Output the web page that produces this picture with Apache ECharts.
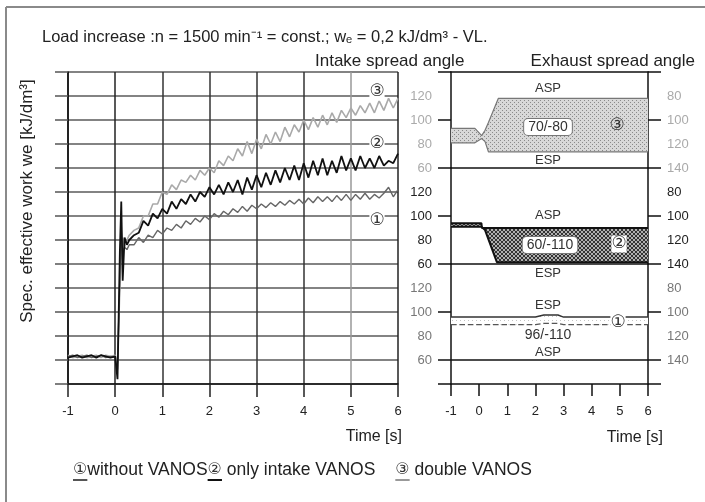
<!DOCTYPE html>
<html>
<head>
<meta charset="utf-8">
<script src="https://cdn.jsdelivr.net/npm/echarts@6/dist/echarts.min.js"></script>
<style>
  html, body { margin: 0; padding: 0; background: #fff; }
  #chart { width: 705px; height: 502px; }
</style>
</head>
<body>
<div id="chart"></div>
<script>
// time base of the work traces [s]
const times = [-1.0, -0.9, -0.8, -0.7, -0.6, -0.5, -0.4, -0.3, -0.2, -0.1, 0.0,
  0.05, 0.1, 0.13, 0.16, 0.2, 0.25, 0.3,
  0.4, 0.5, 0.6, 0.7, 0.8, 0.9, 1.0, 1.1, 1.2, 1.3, 1.4, 1.5, 1.6, 1.7, 1.8, 1.9,
  2.0, 2.1, 2.2, 2.3, 2.4, 2.5, 2.6, 2.7, 2.8, 2.9, 3.0, 3.1, 3.2, 3.3, 3.4, 3.5,
  3.6, 3.7, 3.8, 3.9, 4.0, 4.1, 4.2, 4.3, 4.4, 4.5, 4.6, 4.7, 4.8, 4.9, 5.0, 5.1,
  5.2, 5.3, 5.4, 5.5, 5.6, 5.7, 5.8, 5.9, 6.0];

// spec. effective work, in grid divisions (the original has no scale)
const workNoVanos = [1.15, 1.2, 1.1, 1.15, 1.2, 1.1, 1.15, 1.2, 1.1, 1.15, 1.1,
  0.6, 4.5, 6.4, 5.5, 5.7, 5.6, 5.8,
  5.8, 6.1, 5.9, 6.2, 6.1, 6.4, 6.25, 6.5, 6.4, 6.65, 6.5, 6.8, 6.65, 6.9, 6.75, 7.0,
  6.85, 7.1, 6.95, 7.2, 7.05, 7.3, 7.15, 7.4, 7.2, 7.45, 7.3, 7.5, 7.35, 7.55, 7.4, 7.6,
  7.45, 7.65, 7.5, 7.7, 7.5, 7.75, 7.55, 7.8, 7.6, 7.8, 7.6, 7.85, 7.65, 7.9, 7.65, 7.9,
  7.7, 7.95, 7.7, 7.9, 7.75, 7.95, 8.2, 7.8, 8.1];
const workIntakeVanos = [1.1, 1.15, 1.2, 1.1, 1.15, 1.2, 1.1, 1.2, 1.15, 1.1, 1.15,
  0.2, 5.5, 7.6, 4.3, 6.1, 5.8, 6.0,
  6.2, 6.3, 6.8, 6.6, 7.1, 6.9, 7.3, 7.1, 7.6, 7.3, 7.7, 7.5, 7.9, 7.6, 8.0, 7.8,
  8.2, 7.9, 8.3, 7.9, 8.4, 8.0, 8.5, 7.9, 8.6, 8.1, 8.7, 8.2, 8.8, 8.3, 8.9, 8.4,
  9.0, 8.5, 9.1, 8.5, 9.2, 8.6, 9.3, 8.7, 9.4, 8.7, 9.3, 8.8, 9.5, 8.9, 9.4, 8.9,
  9.5, 9.0, 9.4, 9.0, 9.5, 9.1, 9.3, 9.2, 9.6];
const workDoubleVanos = [1.2, 1.1, 1.15, 1.2, 1.1, 1.15, 1.2, 1.1, 1.2, 1.15, 1.2,
  0.9, 4.0, 5.6, 6.1, 5.7, 6.0, 6.2,
  6.4, 6.5, 7.0, 7.0, 7.5, 7.5, 8.0, 7.9, 8.3, 8.1, 8.5, 8.4, 8.7, 8.5, 8.9, 8.7,
  9.0, 8.8, 9.3, 9.1, 9.5, 9.3, 9.8, 9.5, 10.1, 9.6, 10.2, 9.8, 10.4, 10.0, 10.5, 10.1,
  10.7, 10.3, 10.8, 10.5, 11.0, 10.6, 11.1, 10.7, 11.2, 10.8, 11.3, 10.9, 11.4, 11.1, 11.5, 11.2,
  11.6, 11.3, 11.7, 11.3, 11.8, 11.4, 11.9, 11.5, 11.9];

// spread angle bands (intake spread angle, deg)
const doubleBandT = [-1, -0.15, 0.09, 0.21, 0.33, 0.68, 6];
const doubleBandHigh = [93, 93, 87, 91.5, 98, 118, 118];
const doubleBandLow = [81, 81, 84.5, 82, 73.5, 73.5, 73.5];

const intakeBandT = [-1, 0.08, 0.1, 0.21, 0.63, 6];
const intakeBandHigh = [94, 94, 90, 90, 90, 90];
const intakeBandLow = [91, 91, 89.5, 88.3, 61.5, 61.5];

const noVanosBandT = [-1, 2.0, 2.3, 2.8, 3.0, 6];
const noVanosBandHigh = [95.8, 95.8, 97.5, 97.5, 95.8, 95.8];
const noVanosBandLow = [89.5, 89.5, 90.5, 90.5, 89.5, 89.5];

const intakeLabels = [60, 80, 100, 120];
const exhaustLabels = [80, 100, 120, 140];

const legendMarks = ['①', '②', '③'];
const legendNames = ['without VANOS', ' only intake VANOS', ' double VANOS'];
const legendUnderline = ['#555', '#111', '#999'];

const FONT = '"Liberation Sans", Arial, sans-serif';
const CIRC = '"DejaVu Sans", sans-serif';

function pattern(bg, fg, size, dots) {
  const c = document.createElement('canvas');
  c.width = c.height = size;
  const g = c.getContext('2d');
  g.fillStyle = bg;
  g.fillRect(0, 0, size, size);
  g.fillStyle = fg;
  dots.forEach(([x, y]) => g.fillRect(x, y, 1, 1));
  return c;
}
const fillDouble = pattern('#d8d8d8', '#8a8a8a', 4, [[0, 0], [2, 2]]);
const fillIntake = pattern('#b0b0b0', '#333333', 4, [[0, 0], [1, 1], [2, 2], [3, 3], [3, 0], [2, 1], [1, 2], [0, 3]]);
const fillNone = pattern('#ffffff', '#c4c4c4', 4, [[0, 0]]);

const measure = (() => {
  const g = document.createElement('canvas').getContext('2d');
  return (text, font) => { g.font = font; return g.measureText(text).width; };
})();

function bandFill(xi, yi, ts, hi, lo, img) {
  return {
    type: 'custom', xAxisIndex: xi, yAxisIndex: yi, silent: true, z: 1,
    data: [[ts[0], lo[0]]],
    renderItem: (params, api) => {
      const top = ts.map((t, i) => api.coord([t, hi[i]]));
      const bot = ts.map((t, i) => api.coord([t, lo[i]])).reverse();
      return { type: 'polygon', shape: { points: top.concat(bot) },
        style: { fill: { image: img, repeat: 'repeat' } } };
    }
  };
}

function bandEdge(xi, yi, ts, vals, color, width, type, withBase) {
  const s = {
    type: 'line', xAxisIndex: xi, yAxisIndex: yi, silent: true, z: 3,
    data: ts.map((t, i) => [t, vals[i]]),
    symbol: 'none',
    lineStyle: { color: color, width: width, type: type || 'solid' }
  };
  if (withBase) {
    s.markLine = {
      silent: true, symbol: ['none', 'none'], label: { show: false },
      lineStyle: { color: '#111', width: 1.5, type: 'solid' },
      data: [{ yAxis: 60 }]
    };
  }
  return s;
}

function workLine(data, color, width) {
  return {
    type: 'line', xAxisIndex: 0, yAxisIndex: 0, silent: true,
    data: times.map((t, i) => [t, data[i]]),
    symbol: 'none', lineStyle: { color: color, width: width }
  };
}

const axisBlack = { show: true, onZero: false, lineStyle: { color: '#111', width: 1.5 } };

function rightX(gi, pos, showLine, showTicks) {
  return {
    gridIndex: gi, type: 'value', min: -1, max: 6, interval: 1, position: pos,
    axisLine: showLine ? axisBlack : { show: false, onZero: false },
    axisTick: showTicks ? { show: true, length: 12, lineStyle: { color: '#111', width: 1.5 } } : { show: false },
    axisLabel: showTicks ? { show: true, margin: 21, fontSize: 13, color: '#222', fontFamily: FONT } : { show: false },
    splitLine: { show: false }
  };
}

function rightY(gi, pos, min, max, inverse, ticks, labels, color) {
  return {
    gridIndex: gi, type: 'value', position: pos, min: min, max: max, interval: 20, inverse: inverse,
    axisLine: axisBlack,
    axisTick: { show: true, length: 13, customValues: ticks, lineStyle: { color: '#111', width: 1.5 } },
    axisLabel: { show: true, customValues: labels, margin: 19, fontSize: 13, color: color, fontFamily: FONT },
    splitLine: { show: false }
  };
}

const graphics = [
  { type: 'line', shape: { x1: 6, y1: 7, x2: 705, y2: 7 }, style: { stroke: '#8a8a8a', lineWidth: 2 } },
  { type: 'line', shape: { x1: 6, y1: 7, x2: 6, y2: 502 }, style: { stroke: '#8a8a8a', lineWidth: 2 } },
  { type: 'text', x: 42, y: 37, style: { text: 'Load increase :n = 1500 min⁻¹ = const.; wₑ = 0,2 kJ/dm³ - VL.',
    font: '16.5px ' + FONT, fill: '#222', verticalAlign: 'middle' } },
  { type: 'text', x: 315, y: 61, style: { text: 'Intake spread angle', font: '17px ' + FONT, fill: '#222', verticalAlign: 'middle' } },
  { type: 'text', x: 695, y: 61, style: { text: 'Exhaust spread angle', font: '17px ' + FONT, fill: '#222', align: 'right', verticalAlign: 'middle' } },
  { type: 'text', x: 27, y: 201, rotation: Math.PI / 2, style: { text: 'Spec. effective work we [kJ/dm³]',
    font: '17px ' + FONT, fill: '#222', align: 'center', verticalAlign: 'middle' } },
  { type: 'text', x: 402, y: 437, style: { text: 'Time [s]', font: '16px ' + FONT, fill: '#222', align: 'right', verticalAlign: 'middle' } },
  { type: 'text', x: 663, y: 438, style: { text: 'Time [s]', font: '16px ' + FONT, fill: '#222', align: 'right', verticalAlign: 'middle' } }
];

function note(x, y, text, extra) {
  graphics.push({ type: 'text', x: x, y: y, z: 50,
    style: Object.assign({ text: text, font: '13px ' + FONT, fill: '#333', align: 'center', verticalAlign: 'middle' }, extra || {}) });
}
const boxed = { backgroundColor: '#fff', padding: [1, 4], borderRadius: 4, borderColor: '#777', borderWidth: 1, font: '14px ' + FONT };
const circ = { font: '17px ' + CIRC, backgroundColor: '#fff', fill: '#333' };
note(548, 88, 'ASP');
note(548, 160, 'ESP');
note(548, 127, '70/-80', boxed);
note(617, 126, '③', { font: '17px ' + CIRC, fill: '#333' });
note(548, 215, 'ASP');
note(548, 273, 'ESP');
note(550, 245, '60/-110', boxed);
note(619, 244, '②', circ);
note(548, 305, 'ESP');
note(548, 335, '96/-110', { font: '14px ' + FONT });
note(548, 352, 'ASP');
note(618, 323, '①', circ);
note(377, 92, '③', circ);
note(377, 144, '②', circ);
note(377, 221, '①', circ);

// legend row
(function () {
  let x = 73;
  const y = 470;
  const fMark = '16px ' + CIRC;
  const fText = '17.5px ' + FONT;
  legendMarks.forEach((m, i) => {
    const wm = measure(m, fMark);
    graphics.push({ type: 'text', x: x, y: y, style: { text: m, font: fMark, fill: '#333', verticalAlign: 'middle' } });
    graphics.push({ type: 'line', shape: { x1: x, y1: y + 10, x2: x + wm, y2: y + 10 },
      style: { stroke: legendUnderline[i], lineWidth: 2 } });
    x += wm;
    graphics.push({ type: 'text', x: x, y: y, style: { text: legendNames[i], font: fText, fill: '#222', verticalAlign: 'middle' } });
    x += measure(legendNames[i], fText);
    if (i === 1) x += 20;
  });
})();

const chart = echarts.init(document.getElementById('chart'), null, { renderer: 'canvas' });
chart.setOption({
  animation: false,
  backgroundColor: '#fff',
  grid: [
    { left: 68, top: 72, width: 330, height: 312 },
    { left: 451, top: 72, width: 197, height: 96 },
    { left: 451, top: 168, width: 197, height: 96 },
    { left: 451, top: 264, width: 197, height: 120 }
  ],
  xAxis: [
    {
      gridIndex: 0, type: 'value', min: -1, max: 6, interval: 1,
      axisLine: axisBlack,
      axisTick: { show: true, length: 13, lineStyle: { color: '#222', width: 1.5 } },
      axisLabel: { margin: 21, fontSize: 13, color: '#222', fontFamily: FONT },
      splitLine: { show: true, lineStyle: { color: ['#222', '#222', '#333', '#333', '#333', '#333', '#999', '#222'], width: 1.5 } }
    },
    rightX(1, 'top', true, false),
    rightX(2, 'bottom', false, false),
    rightX(3, 'bottom', true, true)
  ],
  yAxis: [
    {
      gridIndex: 0, type: 'value', min: 0, max: 13, interval: 1,
      axisLine: axisBlack,
      axisTick: { show: true, length: 13, lineStyle: { color: '#555', width: 1.5 } },
      axisLabel: { show: false },
      splitLine: { show: true, lineStyle: { color: '#5a5a5a', width: 1.5 } }
    },
    rightY(1, 'left', 60, 140, false, [60, 100, 140], intakeLabels, '#aaa'),
    rightY(1, 'right', 60, 140, true, [60, 100, 140], exhaustLabels, '#aaa'),
    rightY(2, 'left', 60, 140, false, [60, 100], intakeLabels, '#222'),
    rightY(2, 'right', 60, 140, true, [100, 140], exhaustLabels, '#222'),
    rightY(3, 'left', 40, 140, false, [40, 60, 100], intakeLabels, '#777'),
    rightY(3, 'right', 60, 160, true, [100, 140, 160], exhaustLabels, '#777')
  ],
  series: [
    workLine(workDoubleVanos, '#a9a9a9', 1.6),
    workLine(workNoVanos, '#666', 1.4),
    workLine(workIntakeVanos, '#111', 1.8),

    bandFill(1, 1, doubleBandT, doubleBandHigh, doubleBandLow, fillDouble),
    bandEdge(1, 1, doubleBandT, doubleBandHigh, '#777', 1.2, 'solid', true),
    bandEdge(1, 1, doubleBandT, doubleBandLow, '#777', 1.2),

    bandFill(2, 3, intakeBandT, intakeBandHigh, intakeBandLow, fillIntake),
    bandEdge(2, 3, intakeBandT, intakeBandHigh, '#111', 2, 'solid', true),
    bandEdge(2, 3, intakeBandT, intakeBandLow, '#111', 2),

    bandFill(3, 5, noVanosBandT, noVanosBandHigh, noVanosBandLow, fillNone),
    bandEdge(3, 5, noVanosBandT, noVanosBandHigh, '#333', 1.4, 'solid', true),
    bandEdge(3, 5, noVanosBandT, noVanosBandLow, '#555', 1.4, 'dashed')
  ],
  graphic: graphics
});
</script>
</body>
</html>
